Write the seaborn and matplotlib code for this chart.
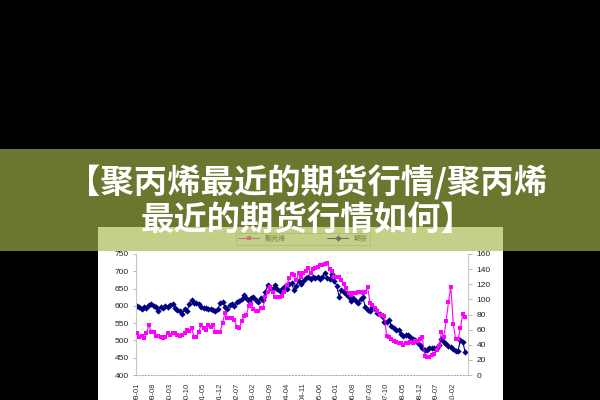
import numpy as np
import pandas as pd
import matplotlib
matplotlib.use('Agg')
import matplotlib.pyplot as plt
from matplotlib.patches import Rectangle
import seaborn as sns

# left axis series (navy), monthly from 99-01
navy = [600, 596, 592, 598, 594, 603, 606, 600, 596, 586, 598, 594,
        600, 597, 603, 606, 594, 588, 584, 576, 590, 584, 605, 618,
        608, 608, 605, 598, 594, 593, 591, 590, 588, 586, 590, 608,
        612, 598, 592, 602, 606, 600, 610, 614, 620, 630, 624, 615,
        622, 626, 618, 612, 622, 616, 640, 660, 652, 648, 660, 650,
        642, 650, 655, 648,
        662, 667, 645, 658, 673, 662, 673, 680, 684, 678,
        684, 680, 684, 678, 684, 695, 680, 678, 693, 673,
        658, 627, 645, 641, 634, 625, 614, 623, 614, 608,
        619, 625, 597, 588, 586, 597, 592, 579, 575, 571,
        553, 553, 560, 542, 536, 531, 529, 520, 514, 516,
        516, 509, 503, 501, 492, 487, 479, 472, 472, 477,
        479, 477, 479, 487, 503, 496, 490, 485, 481, 474,
        470, 470, 501, 496, 466]

# right axis series (magenta)
magenta = [56, 50, 51, 49, 55, 66, 57, 57, 51, 51, 50, 49,
           50, 56, 53, 55, 55, 53, 51, 53, 55, 59, 58, 62,
           50, 50, 57, 66, 62, 59, 66, 64, 66, 57, 57, 57,
           69, 82, 75, 75, 76, 73, 64, 62, 71, 78, 80, 91,
           94, 87, 85, 85, 89, 89, 103, 110, 117, 110, 103, 103,
           103, 105, 110, 119, 128, 133,
           132, 125, 135, 130, 135, 138, 142, 135, 140, 142,
           143, 145, 146, 147, 148, 140, 138, 130, 130, 130,
           125, 120, 115, 108, 106, 108, 108, 110, 110, 108,
           110, 116, 95, 92, 88, 85, 80, 80, 78, 52,
           50, 47, 45, 43, 42, 42, 40, 42, 42, 43,
           42, 45, 45, 48, 50, 25, 24, 24, 26, 28,
           33, 38, 57, 50, 71, 97, 117, 67, 48, 47,
           62, 81, 77]

tick_labels = ["99-01", "99-08", "00-03", "00-10", "01-05", "01-12", "02-07",
               "03-02", "03-09", "04-04", "04-11", "05-06", "06-01", "06-08",
               "07-03", "07-10", "08-05", "08-12", "09-07", "10-02"]
legend_labels = ["聚丙烯", "期货"]
title_1 = "【聚丙烯最近的期货行情/聚丙烯"
title_2 = "最近的期货行情如何】"

sns.set_style("white")
plt.rcParams['font.family'] = ['Liberation Sans', 'Noto Sans CJK SC', 'DejaVu Sans']

df = pd.DataFrame({'month': np.arange(len(navy)), 'navy': navy, 'magenta': magenta})

fig = plt.figure(figsize=(6, 4), dpi=100, facecolor='black')

# white chart picture
fig.patches.append(Rectangle((98 / 600, 0), 405 / 600, 173 / 400, transform=fig.transFigure,
                             facecolor='white', edgecolor='none', zorder=-1))

ax = fig.add_axes([136 / 600, 25 / 400, 332 / 600, 121 / 400])
ax.set_facecolor('white')
ax2 = ax.twinx()

sns.lineplot(data=df, x='month', y='navy', ax=ax, color='#000080', marker='D',
             markersize=3.2, markeredgewidth=0, linewidth=0.8, legend=False)
sns.lineplot(data=df, x='month', y='magenta', ax=ax2, color='#ff00ff', marker='s',
             markersize=3, markeredgewidth=0, linewidth=0.8, legend=False)

ax.set_xlim(-0.4, 139.2)
ax.set_ylim(400, 750)
ax.set_yticks(range(400, 751, 50))
ax2.set_ylim(0, 160)
ax2.set_yticks(range(0, 161, 20))
ax.set_xticks(range(0, len(navy), 7))
ax.set_xticklabels(tick_labels, rotation=90)
ax.set_xlabel('')
ax.set_ylabel('')
ax2.set_ylabel('')

for a in (ax, ax2):
    a.spines['top'].set_visible(False)
ax.spines['right'].set_visible(False)
ax2.spines['left'].set_visible(False)
ax2.spines['bottom'].set_visible(False)
ax.spines['left'].set_color('#c8c8c8')
ax.spines['left'].set_linewidth(0.8)
ax2.spines['right'].set_color('#c8c8c8')
ax2.spines['right'].set_linewidth(0.8)
ax.spines['bottom'].set_color('#b0b0b0')
ax.spines['bottom'].set_linestyle(':')
ax.spines['bottom'].set_linewidth(0.8)

ax.tick_params(axis='y', left=True, length=2, width=0.6, color='#aaaaaa',
               labelsize=6, pad=3, labelcolor='#222222')
ax2.tick_params(axis='y', right=True, length=3, width=0.6, color='#aaaaaa',
                labelsize=6, pad=3, labelcolor='#222222')
ax.tick_params(axis='x', bottom=False, labelsize=5.5, pad=2, labelcolor='#333333')

leg = fig.legend(handles=[ax2.lines[0], ax.lines[0]], labels=legend_labels,
                 loc='center', bbox_to_anchor=(0.505, 0.4025), ncol=2, fontsize=5,
                 frameon=True, edgecolor='#aaaaaa', fancybox=False,
                 handlelength=3, borderpad=0.3, columnspacing=6)
leg.get_frame().set_linewidth(0.5)
leg.set_zorder(4)

# olive banner over the top
fig.patches.append(Rectangle((0, 149 / 400), 1, 102 / 400, transform=fig.transFigure,
                             facecolor=(165 / 255, 183 / 255, 71 / 255), alpha=0.65,
                             edgecolor='none', zorder=5))

fig.text(0.512, 1 - 183 / 400, title_1, ha='center', va='center', color='white',
         fontsize=24, fontweight='heavy', family=['Noto Sans CJK SC', 'DejaVu Sans'], zorder=6)
fig.text(0.512, 1 - 221 / 400, title_2, ha='center', va='center', color='white',
         fontsize=24, fontweight='heavy', family=['Noto Sans CJK SC', 'DejaVu Sans'], zorder=6)

fig.savefig('out.png', dpi=100, facecolor='black')
